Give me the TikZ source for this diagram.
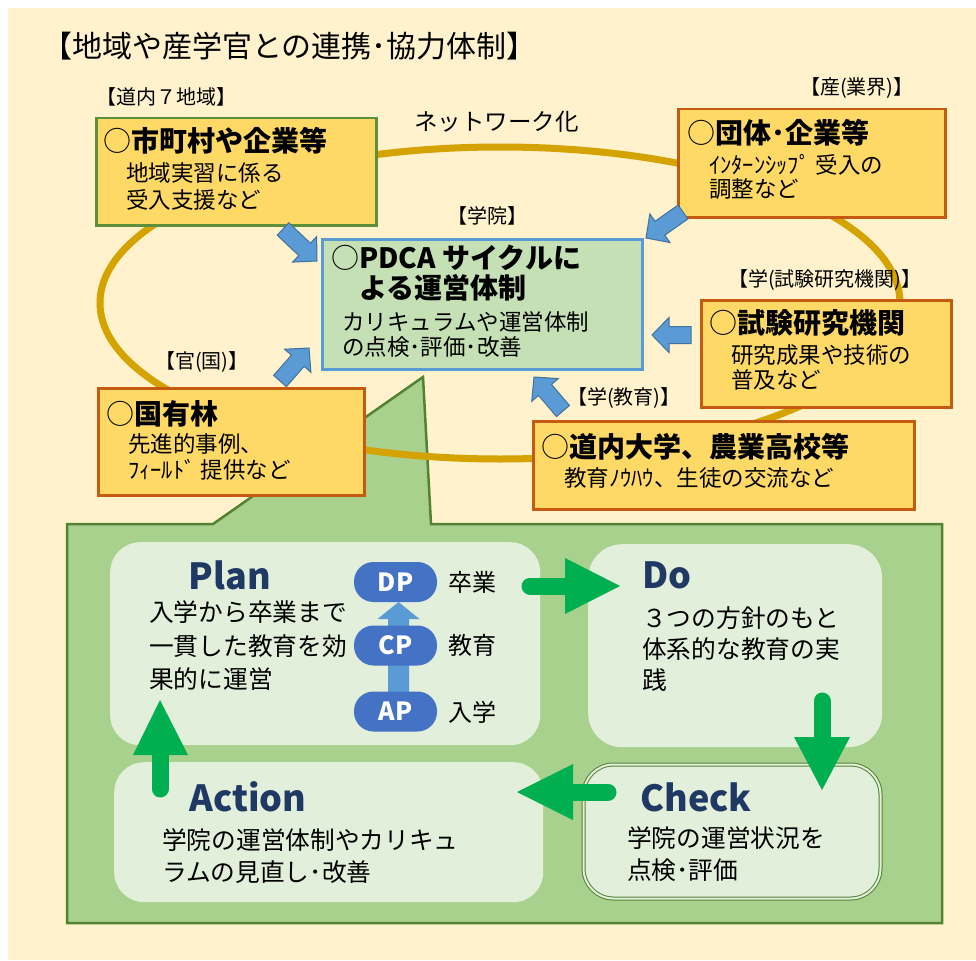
\documentclass[tikz,border=0pt]{standalone}
\usepackage{fontspec}
\setmainfont{Noto Sans CJK JP}
\usetikzlibrary{calc}
\definecolor{cream}{HTML}{FFF2CC}
\definecolor{goldfill}{HTML}{FFD966}
\definecolor{boxgreen}{HTML}{5E8F3A}
\definecolor{boxorange}{HTML}{C55A11}
\definecolor{centerfill}{HTML}{C5E0B4}
\definecolor{centerblue}{HTML}{5B9BD5}
\definecolor{ringgold}{HTML}{D4A300}
\definecolor{panelfill}{HTML}{A9D18E}
\definecolor{paneldraw}{HTML}{548235}
\definecolor{innerfill}{HTML}{E2EFDA}
\definecolor{arrowgreen}{HTML}{00B050}
\definecolor{titleblue}{HTML}{1F3864}
\definecolor{pillblue}{HTML}{4472C4}
\definecolor{lightblue}{HTML}{5B9BD5}
\definecolor{blueedge}{HTML}{41719C}
\newcommand\myfs[2]{\fontsize{#1}{#2}\selectfont}
% #1 style, #2 tail, #3 tip, #4 half shaft, #5 half head, #6 head length
\newcommand\blkarrow[6]{%
  \coordinate (ba-h) at ($(#3)!#6!(#2)$);
  \filldraw[#1] ($(#2)!#4!90:(#3)$) -- ($(ba-h)!#4!90:(#3)$) -- ($(ba-h)!#5!90:(#3)$) -- (#3) -- ($(ba-h)!#5!-90:(#3)$) -- ($(ba-h)!#4!-90:(#3)$) -- ($(#2)!#4!-90:(#3)$) -- cycle;}
\tikzset{
  txt/.style={inner sep=0pt, anchor=west, align=left, text=black},
  lbl/.style={txt, font=\myfs{20}{22}},
  btitle/.style={txt, font=\myfs{28}{30}},
  bsub/.style={txt, font=\myfs{22.5}{25}},
  ptext/.style={txt, font=\myfs{24.7}{32}},
  goldbox/.style={fill=goldfill, line width=2.5pt, anchor=north west, inner sep=0pt},
  innerbox/.style={fill=innerfill, rounded corners=30pt, anchor=north west, inner sep=0pt},
  pdca/.style={inner sep=0pt, text=titleblue, font=\bfseries\myfs{36}{40}},
  pill/.style={fill=pillblue, rounded corners=19.5pt, minimum width=83pt, minimum height=40pt, inner sep=0pt, text=white, font=\bfseries\myfs{25}{28}},
  bluearrow/.style={fill=lightblue, draw=blueedge, line width=1pt, line join=miter},
  garrowshaft/.style={draw=arrowgreen, line width=17pt, line cap=round},
  garrowhead/.style={fill=arrowgreen},
}
\begin{document}
\begin{tikzpicture}[x=1pt,y=-1pt]
\useasboundingbox (0,0) rectangle (976,960);
\fill[white] (0,0) rectangle (976,960);
\fill[cream] (8,8) rectangle (976,960);

% title
\node[txt, font=\myfs{30}{34}] (title) at (42,46) {【地域や産学官との連携･協力体制】};

% green panel with pointer
\draw[fill=panelfill, draw=paneldraw, line width=2.5pt] (67,524) -- (213,524) -- (423,377) -- (431,524) -- (942,524) -- (942,923) -- (67,923) -- cycle;

% network ring
\draw[ringgold, line width=7pt] (500,303) ellipse [x radius=400, y radius=156];
\node[txt, font=\myfs{23.5}{26}] (net) at (414,122) {ネットワーク化};

% outer boxes
\node[goldbox, draw=boxgreen, minimum width=280pt, minimum height=107pt] (b1) at (95,117) {};
\node[goldbox, draw=boxorange, minimum width=267pt, minimum height=108pt] (b2) at (677,108) {};
\node[goldbox, draw=boxorange, minimum width=250pt, minimum height=107pt] (b3) at (700,299) {};
\node[goldbox, draw=boxorange, minimum width=266pt, minimum height=107pt] (b4) at (97,387) {};
\node[goldbox, draw=boxorange, minimum width=381pt, minimum height=88pt] (b5) at (532,420) {};
\node[fill=centerfill, draw=centerblue, line width=2.5pt, anchor=north west, inner sep=0pt, minimum width=320pt, minimum height=130pt] (bc) at (321,238) {};

% bracket labels
\node[lbl] (l1) at (96,97) {【道内７地域】};
\node[lbl] (l2) at (800,88) {【産(業界)】};
\node[lbl] (lc) at (447,216) {【学院】};
\node[lbl] (l3) at (728,280) {【学(試験研究機関)】};
\node[lbl] (l4) at (155,362) {【官(国)】};
\node[lbl] (l5) at (567,398) {【学(教育)】};

% box texts
\node[btitle] (t1) at (103,141) {○\textbf{市町村や企業等}};
\node[bsub, font=\myfs{22.5}{27}] (s1) at (126,186) {地域実習に係る\\受入支援など};
\node[btitle] (t2) at (687,133) {○\textbf{団体･企業等}};
\node[bsub, font=\myfs{22.5}{24}] (s2) at (709,177) {ｲﾝﾀｰﾝｼｯﾌﾟ 受入の\\調整など};
\node[btitle] (t3) at (709,323) {○\textbf{試験研究機関}};
\node[bsub] (s3) at (731,367) {研究成果や技術の\\普及など};
\node[btitle] (t4) at (106,414) {○\textbf{国有林}};
\node[bsub, font=\myfs{22.5}{26}] (s4) at (128,457) {先進的事例、\\ﾌｨｰﾙﾄﾞ 提供など};
\node[btitle] (t5) at (541,447) {○\textbf{道内大学、農業高校等}};
\node[bsub] (s5) at (564,478) {教育ﾉｳﾊｳ、生徒の交流など};
\node[btitle] (tc) at (331,273) {○\textbf{PDCA サイクルに}\\\hphantom{○}\textbf{よる運営体制}};
\node[bsub] (sc) at (342,334) {カリキュラムや運営体制\\の点検･評価･改善};

% blue block arrows into the centre
\coordinate (a1t) at (283,229); \coordinate (a1h) at (317,261);
\coordinate (a2t) at (683,212); \coordinate (a2h) at (646,238);
\coordinate (a3t) at (691,335); \coordinate (a3h) at (652,335);
\coordinate (a4t) at (563,411); \coordinate (a4h) at (534,377);
\coordinate (a5t) at (280,381); \coordinate (a5h) at (309,348);
\blkarrow{bluearrow}{a1t}{a1h}{8.5pt}{17.5pt}{17pt}
\blkarrow{bluearrow}{a2t}{a2h}{8.5pt}{17.5pt}{17pt}
\blkarrow{bluearrow}{a3t}{a3h}{8.5pt}{17.5pt}{17pt}
\blkarrow{bluearrow}{a4t}{a4h}{8.5pt}{17.5pt}{17pt}
\blkarrow{bluearrow}{a5t}{a5h}{8.5pt}{17.5pt}{17pt}

% PDCA inner boxes
\node[innerbox, minimum width=430pt, minimum height=203pt] (plan) at (110,542) {};
\node[innerbox, minimum width=294pt, minimum height=203pt, rounded corners=34pt] (do) at (588,544) {};
\node[innerbox, minimum width=429pt, minimum height=140pt] (act) at (114,762) {};
\node[innerbox, minimum width=297pt, minimum height=134pt, draw=paneldraw, double=innerfill, double distance=2pt, line width=1pt] (chk) at (583,764) {};

\node[pdca] (pt) at (230,575) {Plan};
\node[pdca] (dt) at (667,575) {Do};
\node[pdca] (ct) at (696,797) {Check};
\node[pdca] (at) at (248,797) {Action};

\node[ptext, font=\myfs{24.7}{33.5}] (ptx) at (149,646) {入学から卒業まで\\一貫した教育を効\\果的に運営};
\node[ptext, font=\myfs{24.7}{31}] (dtx) at (642,649) {３つの方針のもと\\体系的な教育の実\\践};
\node[ptext] (ctx) at (627,854) {学院の運営状況を\\点検･評価};
\node[ptext] (atx) at (162,856) {学院の運営体制やカリキュ\\ラムの見直し･改善};

% policy pills
\coordinate (ppt) at (398.5,692); \coordinate (pph) at (398.5,602);
\blkarrow{fill=lightblue, draw=none}{ppt}{pph}{10.5pt}{21pt}{17pt}
\node[pill] (dp) at (395.5,582) {DP};
\node[pill] (cp) at (395.5,645.5) {CP};
\node[pill] (ap) at (395.5,711.5) {AP};
\node[txt, font=\myfs{24}{26}] (dpl) at (448,582) {卒業};
\node[txt, font=\myfs{24}{26}] (cpl) at (448,645) {教育};
\node[txt, font=\myfs{24}{26}] (apl) at (448,712) {入学};

% green cycle arrows
\coordinate (g1a) at (530,586); \coordinate (g1b) at (570,586);
\draw[garrowshaft] (g1a) -- (g1b);
\fill[garrowhead] (565,558) -- (620,586) -- (565,614) -- cycle;
\coordinate (g2a) at (822,701); \coordinate (g2b) at (822,742);
\draw[garrowshaft] (g2a) -- (g2b);
\fill[garrowhead] (794,737) -- (822,790) -- (850,737) -- cycle;
\coordinate (g3a) at (608,792); \coordinate (g3b) at (568,792);
\draw[garrowshaft] (g3a) -- (g3b);
\fill[garrowhead] (573,764) -- (517,792) -- (573,820) -- cycle;
\coordinate (g4a) at (160,789); \coordinate (g4b) at (160,750);
\draw[garrowshaft] (g4a) -- (g4b);
\fill[garrowhead] (133,755) -- (160,700) -- (188,755) -- cycle;
\end{tikzpicture}
\end{document}
